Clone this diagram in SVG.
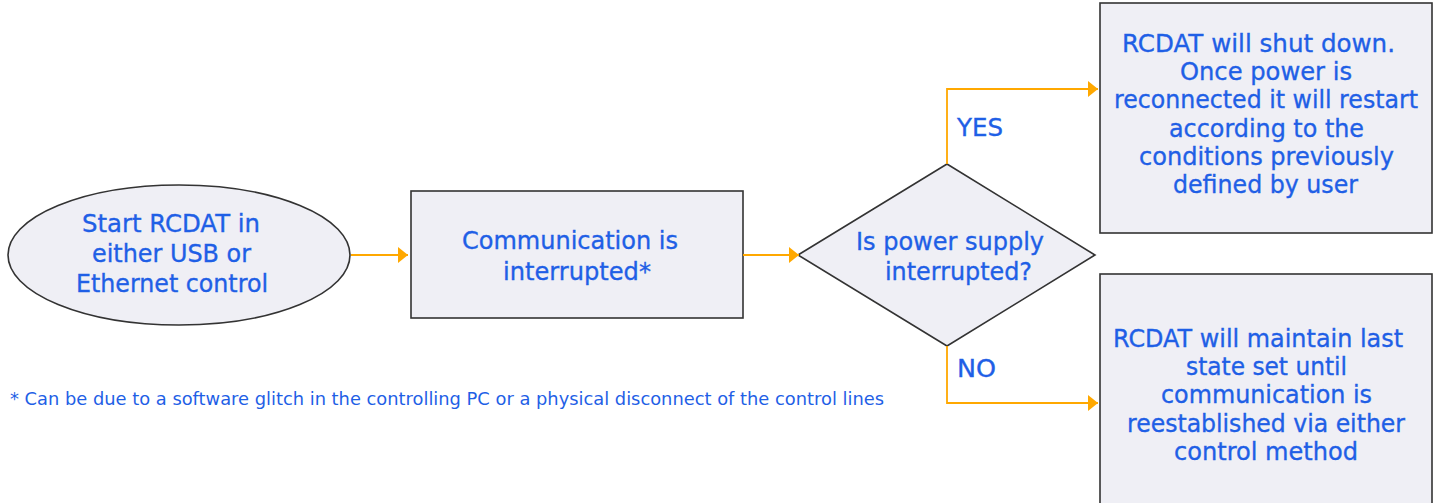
<svg xmlns="http://www.w3.org/2000/svg" width="1439" height="503" viewBox="0 0 1439 503">
<defs>
<marker id="ah" markerWidth="10" markerHeight="16" refX="10" refY="8" orient="auto" markerUnits="userSpaceOnUse">
<path d="M0,0 L10,8 L0,16 Z" fill="#ffa800"/>
</marker>
<style>
.shape{fill:#efeff5;stroke:#333;stroke-width:1.6}
.t{font-family:"DejaVu Sans","Liberation Sans",sans-serif;font-size:24px;fill:#1f5fe6;stroke:#1f5fe6;stroke-width:0.35;text-anchor:middle}
.lbl{font-family:"DejaVu Sans","Liberation Sans",sans-serif;font-size:24px;fill:#1f5fe6;stroke:#1f5fe6;stroke-width:0.35}
.conn{fill:none;stroke:#ffa800;stroke-width:1.8}
</style>
</defs>
<rect width="1439" height="503" fill="#fff"/>
<g id="start">
<ellipse class="shape" cx="179" cy="255" rx="171" ry="70"/>
<text class="t" x="171" y="232" textLength="178" lengthAdjust="spacingAndGlyphs">Start RCDAT in</text>
<text class="t" x="171.5" y="262" textLength="159" lengthAdjust="spacingAndGlyphs">either USB or</text>
<text class="t" x="172" y="292" textLength="192" lengthAdjust="spacingAndGlyphs">Ethernet control</text>
</g>
<g id="comm">
<rect class="shape" x="411" y="191" width="332" height="127"/>
<text class="t" x="570" y="249" textLength="216" lengthAdjust="spacingAndGlyphs">Communication is</text>
<text class="t" x="577" y="280" textLength="148" lengthAdjust="spacingAndGlyphs">interrupted*</text>
</g>
<g id="decision">
<polygon class="shape" points="798,255 947,164 1095,255 947,346"/>
<text class="t" x="950" y="250" textLength="188" lengthAdjust="spacingAndGlyphs">Is power supply</text>
<text class="t" x="958.5" y="280" textLength="147" lengthAdjust="spacingAndGlyphs">interrupted?</text>
</g>
<g id="shutdown">
<rect class="shape" x="1100" y="3" width="332" height="230"/>
<text class="t" x="1258.5" y="52" textLength="273" lengthAdjust="spacingAndGlyphs">RCDAT will shut down.</text>
<text class="t" x="1266" y="80" textLength="172" lengthAdjust="spacingAndGlyphs">Once power is</text>
<text class="t" x="1266" y="108" textLength="304" lengthAdjust="spacingAndGlyphs">reconnected it will restart</text>
<text class="t" x="1266.5" y="137" textLength="195" lengthAdjust="spacingAndGlyphs">according to the</text>
<text class="t" x="1266.5" y="165" textLength="255" lengthAdjust="spacingAndGlyphs">conditions previously</text>
<text class="t" x="1265.5" y="193" textLength="185" lengthAdjust="spacingAndGlyphs">defined by user</text>
</g>
<g id="maintain">
<rect class="shape" x="1100" y="274" width="332" height="240"/>
<text class="t" x="1258" y="347" textLength="290" lengthAdjust="spacingAndGlyphs">RCDAT will maintain last</text>
<text class="t" x="1266.5" y="375" textLength="161" lengthAdjust="spacingAndGlyphs">state set until</text>
<text class="t" x="1266.5" y="403" textLength="211" lengthAdjust="spacingAndGlyphs">communication is</text>
<text class="t" x="1266" y="432" textLength="278" lengthAdjust="spacingAndGlyphs">reestablished via either</text>
<text class="t" x="1266" y="460" textLength="184" lengthAdjust="spacingAndGlyphs">control method</text>
</g>
<g id="connectors">
<path class="conn" d="M351,255 H408" marker-end="url(#ah)"/>
<path class="conn" d="M743,255 H799" marker-end="url(#ah)"/>
<path class="conn" d="M947,164 V89 H1098" marker-end="url(#ah)"/>
<path class="conn" d="M947,346 V403 H1098" marker-end="url(#ah)"/>
<text class="lbl" x="957" y="136" textLength="46" lengthAdjust="spacingAndGlyphs">YES</text>
<text class="lbl" x="957" y="377" textLength="39" lengthAdjust="spacingAndGlyphs">NO</text>
</g>
<text x="10" y="405" font-family="'DejaVu Sans','Liberation Sans',sans-serif" font-size="17" fill="#1f5fe6" textLength="874" lengthAdjust="spacingAndGlyphs">* Can be due to a software glitch in the controlling PC or a physical disconnect of the control lines</text>
</svg>
